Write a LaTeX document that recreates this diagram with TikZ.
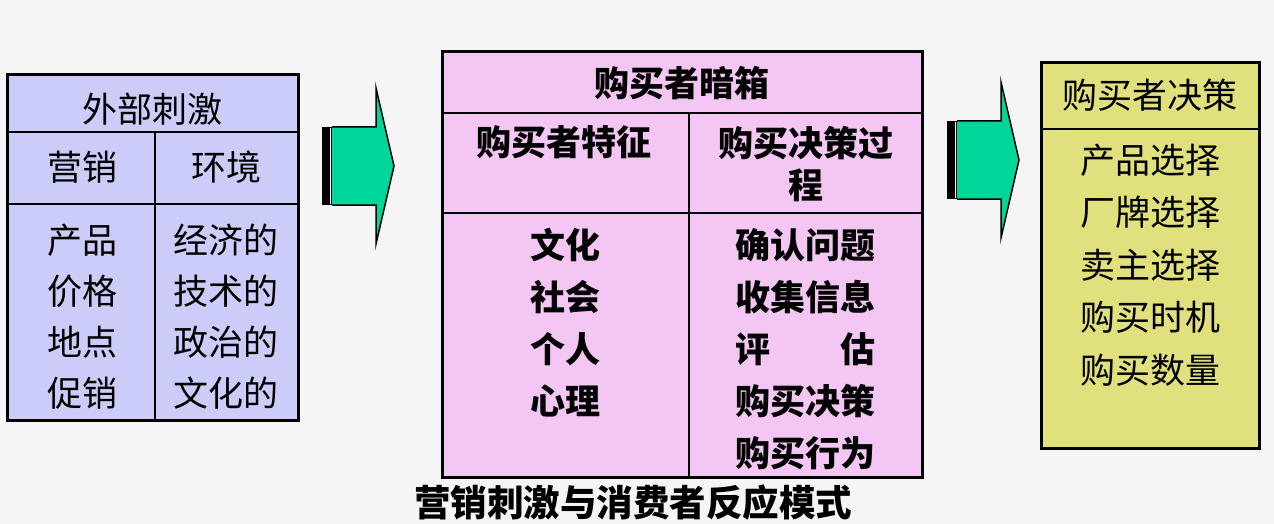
\documentclass[tikz,border=0pt]{standalone}
\usepackage{fontspec}
\newfontfamily\cjk{Noto Sans CJK SC}
\definecolor{paper}{RGB}{245,245,247}
\definecolor{stimulus}{RGB}{204,204,248}
\definecolor{blackbox}{RGB}{244,198,244}
\definecolor{decision}{RGB}{224,224,124}
\definecolor{arrowgreen}{RGB}{0,214,154}
\tikzset{
  cell/.style={inner sep=0pt, font=\cjk\fontsize{35}{42}\selectfont},
  boldcell/.style={inner sep=0pt, font=\cjk\bfseries\fontsize{35}{42}\selectfont},
  frame/.style={line width=3pt},
  rule/.style={line width=1.5pt},
}
\begin{document}
\begin{tikzpicture}[x=1pt,y=-1pt]
    \fill[paper] (0,0) rectangle (1274,524);
    \useasboundingbox (0,0) rectangle (1274,524);
    % external stimuli
    \draw[frame,fill=stimulus] (7,75) rectangle (298,420);
    \draw[rule] (7,132) -- (298,132);
    \draw[rule] (7,204) -- (298,204);
    \draw[rule] (155,132) -- (155,420);
    \node[cell] (ext) at (152,109) {外部刺激};
    \node[cell] (mkt) at (82,167) {营销};
    \node[cell] (env) at (226,167) {环境};
    \foreach \t [count=\i] in {产品,价格,地点,促销}
        \node[cell] (mkt\i) at (82,{240+51*(\i-1)}) {\t};
    \foreach \t [count=\i] in {经济的,技术的,政治的,文化的}
        \node[cell] (env\i) at (226,{240+51*(\i-1)}) {\t};
    % buyer black box
    \draw[frame,fill=blackbox] (442,52) rectangle (922,477);
    \draw[rule] (442,113) -- (922,113);
    \draw[rule] (442,213) -- (922,213);
    \draw[rule] (689,113) -- (689,477);
    \node[boldcell] (box) at (682,83) {购买者暗箱};
    \node[boldcell] (traits) at (564,142) {购买者特征};
    \node[boldcell,align=center] (process) at (806,164) {购买决策过\\程};
    \foreach \t [count=\i] in {文化,社会,个人,心理}
        \node[boldcell] (trait\i) at (565,{245+52*(\i-1)}) {\t};
    \foreach \t [count=\i] in {确认问题,收集信息,评\hspace{2em}估,购买决策,购买行为}
        \node[boldcell] (step\i) at (805,{245+52*(\i-1)}) {\t};
    % buyer decisions
    \draw[frame,fill=decision] (1041,63) rectangle (1259,448);
    \draw[rule] (1041,129) -- (1259,129);
    \node[cell] (dec) at (1150,95) {购买者决策};
    \foreach \t [count=\i] in {产品选择,厂牌选择,卖主选择,购买时机,购买数量}
        \node[cell] (choice\i) at (1150,{160+52.5*(\i-1)}) {\t};
    % block arrows
    \foreach \x/\y in {322/127,947/121} {
        \fill[black] (\x,\y) rectangle ({\x+10},{\y+78});
        \draw[line width=1.5pt,fill=arrowgreen] ({\x+10},\y) -- ({\x+54},\y) -- ({\x+54},{\y-39})
            -- ({\x+72},{\y+39}) -- ({\x+54},{\y+117}) -- ({\x+54},{\y+78}) -- ({\x+10},{\y+78});
        \draw[white,line width=1.2pt] ({\x+8.5},{\y+1}) -- ({\x+8.5},{\y+77});
    }
    \node[boldcell,font=\cjk\bfseries\fontsize{36.5}{42}\selectfont] (caption) at (633,503) {营销刺激与消费者反应模式};
\end{tikzpicture}
\end{document}
